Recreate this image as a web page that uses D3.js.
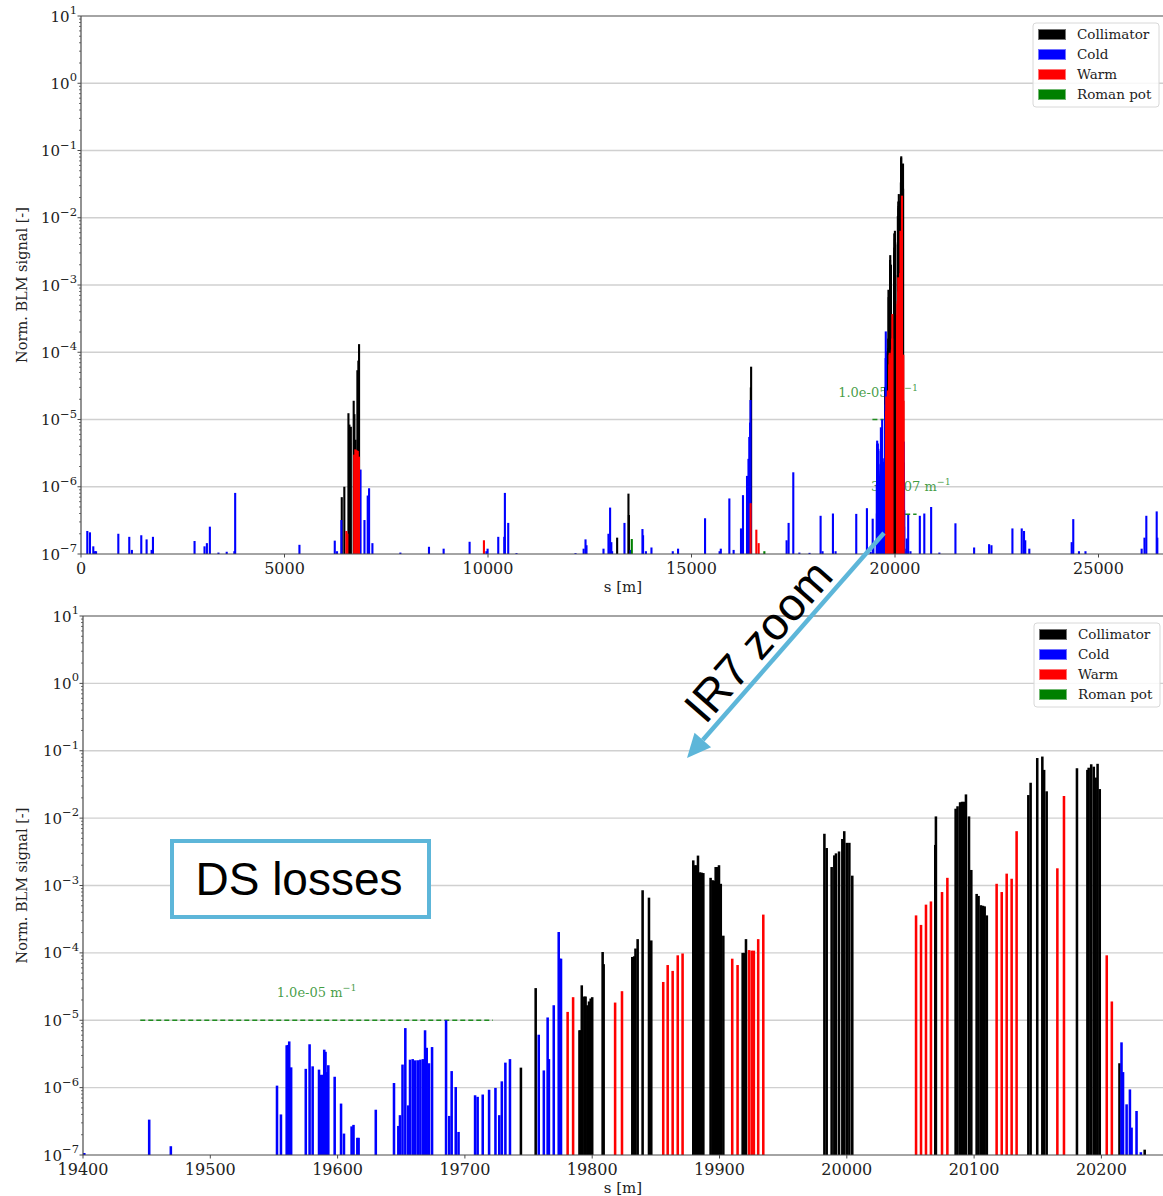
<!DOCTYPE html>
<html>
<head>
<meta charset="utf-8">
<script src="https://cdn.jsdelivr.net/npm/d3@7"></script>
<style>
  html, body { margin: 0; padding: 0; background: #fff; }
  svg { display: block; }
</style>
</head>
<body>
<svg id="chart" width="1163" height="1196"></svg>
<script>
// ---- Loss categories -------------------------------------------------------
const categories = ["Collimator", "Cold", "Warm", "Roman pot"];

// ---- Tick values ------------------------------------------------------------
const decadeExponents = [-7, -6, -5, -4, -3, -2, -1, 0, 1];
const ringTicks = [0, 5000, 10000, 15000, 20000, 25000];
const ir7Ticks = [19400, 19500, 19600, 19700, 19800, 19900, 20000, 20100, 20200];

// ---- BLM signals around the ring, outside the IR7 window: [s (m), signal] ----
const ringCold = [
  [155, 2.2e-7], [220, 2.1e-7], [302, 1.3e-7], [340, 1.1e-7], [370, 1.1e-7],
  [917, 2.0e-7], [1186, 1.8e-7], [1250, 1.15e-7], [1481, 1.9e-7], [1612, 1.65e-7],
  [1735, 1.15e-7], [1768, 1.8e-7], [2790, 1.56e-7], [3035, 1.3e-7], [3093, 1.45e-7],
  [3166, 2.55e-7], [3377, 1.05e-7], [3580, 1.08e-7], [3768, 1.1e-7], [3788, 8.1e-7],
  [5367, 1.37e-7], [6235, 1.58e-7], [6290, 1.1e-7], [6398, 3.2e-7], [6868, 1.8e-6],
  [6965, 3.2e-7], [7045, 7.4e-7], [7078, 9.5e-7], [7160, 1.45e-7], [7847, 1.05e-7],
  [8550, 1.28e-7], [8910, 1.2e-7], [9548, 1.52e-7], [9960, 1.1e-7], [9990, 1.2e-7],
  [10252, 1.8e-7], [10400, 1.8e-7], [10415, 8.1e-7], [10497, 2.9e-7], [10700, 1.03e-7],
  [12150, 1.03e-7], [12350, 1.2e-7], [12396, 1.65e-7], [12420, 1.35e-7], [12838, 1.2e-7],
  [12960, 2.0e-7], [13000, 4.9e-7], [13030, 1.5e-7], [13050, 1.1e-7], [13353, 2.9e-7],
  [13500, 1.15e-7], [13795, 2.35e-7], [13810, 1.9e-7], [13880, 1.1e-7], [14016, 1.25e-7],
  [14540, 1.1e-7], [14670, 1.2e-7], [15333, 3.4e-7], [15690, 1.1e-7], [15720, 1.2e-7],
  [15930, 6.7e-7], [16035, 1.15e-7], [16216, 2.4e-7], [16265, 7.5e-7], [16364, 1.45e-6],
  [16400, 2.6e-6], [16420, 5.5e-6], [16440, 9.0e-6], [16450, 1.95e-5], [17337, 1.6e-7],
  [17386, 2.9e-7], [17501, 1.64e-6], [17650, 1.05e-7], [17900, 1.04e-7], [18172, 3.7e-7],
  [18220, 1.1e-7], [18475, 4.0e-7], [18540, 1.1e-7], [19048, 3.95e-7], [19310, 4.8e-7],
  [20290, 1.7e-7], [20324, 3.8e-7], [20380, 1.1e-7], [20610, 3.7e-7], [20720, 4.0e-7],
  [20888, 5.0e-7], [21090, 1.05e-7], [21485, 2.86e-7], [21944, 1.25e-7], [22312, 1.4e-7],
  [22370, 1.35e-7], [22885, 2.4e-7], [23114, 2.4e-7], [23170, 2.2e-7], [23200, 1.6e-7],
  [23300, 1.2e-7], [24341, 1.5e-7], [24380, 3.3e-7], [24520, 1.1e-7], [24680, 1.1e-7],
  [26060, 1.2e-7], [26130, 1.75e-7], [26175, 3.7e-7], [26430, 4.3e-7], [26445, 1.75e-7]
];
const ringCollimator = [
  [6407, 7.0e-7], [6470, 1.0e-6], [6571, 1.24e-5], [6595, 8.4e-6], [6612, 4.5e-6],
  [6630, 7.8e-6], [6700, 1.9e-5], [6718, 1.2e-5], [6745, 5.0e-6], [6791, 5.4e-5],
  [6815, 7.5e-5], [6832, 1.32e-4], [13173, 1.75e-7], [13451, 7.9e-7], [13462, 3.8e-7],
  [16458, 3.0e-5], [16465, 6.1e-5]
];
const ringWarm = [
  [6520, 2.2e-7], [6545, 2.0e-7], [6712, 3.0e-6], [6740, 3.6e-6], [6770, 3.5e-6],
  [6800, 3.4e-6], [6830, 2.8e-6], [9900, 1.6e-7], [16452, 5.7e-7], [16593, 2.3e-7],
  [16650, 1.45e-7]
];
const ringRomanPot = [
  [13533, 1.67e-7], [16790, 1.1e-7]
];

// ---- BLM signals in the IR7 insertion: [s (m), signal] ---------------------
const ir7Cold = [
  [19401, 1.07e-7], [19452, 3.35e-7], [19469, 1.35e-7], [19552.4, 1.07e-6], [19555.5, 4.0e-7],
  [19560, 4.25e-6], [19561, 4.3e-6], [19562, 4.85e-6], [19563.5, 2.0e-6], [19575, 1.9e-6],
  [19578, 4.4e-6], [19580.4, 2.07e-6], [19585.4, 1.85e-6], [19587, 1.55e-6], [19588.5, 1.55e-6],
  [19589.5, 3.66e-6], [19590.5, 3.4e-6], [19591.5, 1.7e-6], [19592.7, 2.15e-6], [19597.7, 1.45e-6],
  [19602.7, 5.8e-7], [19605, 2.08e-7], [19611, 2.66e-7], [19612.5, 2.8e-7], [19615.5, 1.8e-7],
  [19616.5, 1.8e-7], [19630, 4.7e-7], [19644.3, 1.17e-6], [19647.7, 2.7e-7], [19649, 3.9e-7],
  [19651, 2.2e-6], [19653.2, 7.65e-6], [19655.5, 5.45e-7], [19656.9, 2.6e-6], [19659, 2.65e-6],
  [19661, 2.54e-6], [19663, 2.55e-6], [19665, 2.6e-6], [19667, 2.65e-6], [19668.7, 7.1e-6],
  [19670, 3.9e-6], [19671.8, 2.3e-6], [19674.2, 4.0e-6], [19685.2, 1.0e-5], [19687.7, 3.8e-7],
  [19689.6, 1.76e-6], [19692.8, 1.02e-6], [19695, 2.2e-7], [19708, 7.7e-7], [19710, 7.3e-7],
  [19714, 7.9e-7], [19719, 9.3e-7], [19724, 9.9e-7], [19727, 3.9e-7], [19729, 1.24e-6],
  [19731.8, 2.35e-6], [19735.4, 2.65e-6], [19758, 6.1e-6], [19762, 1.8e-6], [19765, 1.1e-5],
  [19766, 2.65e-6], [19769.8, 1.67e-5], [19773.7, 2.04e-4], [19774.7, 8.2e-5], [19775.5, 8.2e-5],
  [20215.8, 4.7e-6], [20217, 1.7e-6], [20219.8, 5.65e-7], [20222.4, 9.4e-7], [20223.7, 2.55e-7],
  [20227.6, 4.5e-7], [20231, 1.1e-7]
];
const ir7Collimator = [
  [19744, 1.98e-6], [19755.6, 3.0e-5], [19790, 7.1e-6], [19790.8, 7.1e-6], [19791.8, 3.3e-5],
  [19793.8, 2.25e-5], [19794.8, 2.25e-5], [19796.2, 1.67e-5], [19797.5, 1.9e-5], [19798.8, 2.1e-5],
  [19800, 2.2e-5], [19808.2, 1.03e-4], [19809, 6.8e-5], [19831.5, 8.7e-5], [19833, 8.9e-5],
  [19834, 1.16e-4], [19835.7, 1.6e-4], [19839.6, 8.5e-4], [19844.6, 6.6e-4], [19846.4, 1.53e-4],
  [19879.4, 2.36e-3], [19880.7, 2.0e-3], [19882, 2.0e-3], [19883.1, 2.78e-3], [19884.7, 1.57e-3],
  [19886, 1.55e-3], [19887.3, 1.53e-3], [19893, 1.3e-3], [19894.5, 1.2e-3], [19895.8, 1.18e-3],
  [19897, 1.88e-3], [19898.3, 1.88e-3], [19899.6, 2.0e-3], [19901, 1.06e-3], [19903, 1.8e-4],
  [19918.2, 1.0e-4], [19919.5, 1.0e-4], [19920.8, 1.6e-4], [19982.4, 5.86e-3], [19984.2, 3.6e-3],
  [19988.1, 1.88e-3], [19990.2, 2.8e-3], [19991.5, 3.0e-3], [19993.9, 3.2e-3], [19996.5, 4.9e-3],
  [19998, 6.4e-3], [20000, 4.3e-3], [20002, 4.3e-3], [20004.3, 1.4e-3], [20069.5, 4.0e-3],
  [20070, 1.06e-2], [20085.5, 1.38e-2], [20087, 1.5e-2], [20089, 1.72e-2], [20090.5, 1.75e-2],
  [20092, 1.75e-2], [20093.6, 2.25e-2], [20096, 1.06e-2], [20097.8, 1.7e-3], [20102, 7.5e-4],
  [20103.5, 7.0e-4], [20105.4, 5.1e-4], [20107, 5.0e-4], [20108.3, 4.9e-4], [20110, 3.6e-4],
  [20142.6, 2.2e-2], [20144.4, 3.35e-2], [20149.6, 7.8e-2], [20153.6, 8.2e-2], [20155, 5.2e-2],
  [20157, 2.5e-2], [20180.8, 5.5e-2], [20189, 5.2e-2], [20190, 5.6e-2], [20192, 6.3e-2],
  [20194, 5.8e-2], [20195.5, 4.0e-2], [20197, 6.4e-2], [20198.7, 2.7e-2], [20214.2, 2.3e-6],
  [20234, 1.2e-7]
];
const ir7Warm = [
  [19780.7, 1.33e-5], [19785, 2.2e-5], [19818, 1.83e-5], [19823.4, 2.7e-5], [19855.8, 3.7e-5],
  [19859.3, 6.6e-5], [19863.2, 5.4e-5], [19867.2, 9.2e-5], [19871, 9.8e-5], [19910, 8.2e-5],
  [19914.2, 6.6e-5], [19923.2, 1.1e-4], [19925.3, 1.08e-4], [19927, 1.08e-4], [19930.4, 1.6e-4],
  [19934.4, 3.7e-4], [20054.4, 3.6e-4], [20058.3, 2.6e-4], [20062.2, 5.2e-4], [20066.1, 5.8e-4],
  [20074.8, 8.0e-4], [20079, 1.3e-3], [20117.7, 1.06e-3], [20121.7, 8.0e-4], [20125.6, 1.5e-3],
  [20129.5, 1.26e-3], [20133.4, 6.4e-3], [20165.4, 1.8e-3], [20170.6, 2.13e-2], [20204.2, 9.2e-5],
  [20208.2, 1.9e-5]
];
const ir7RomanPot = [];

// ---- Loss-density reference lines: [s start, s end, level] ------------------
const dsLeftLimit = [19445, 19722, 1.0e-5];
const dsRightLimit = [20250, 20530, 3.9e-7];

// ---------------------------------------------------------------------------
const colors = { "Collimator": "#000000", "Cold": "#0000ff", "Warm": "#ff0000", "Roman pot": "#008000" };
const serif = "'DejaVu Serif', serif";
const sans = "'Liberation Sans', Arial, sans-serif";
const accent = "#5db6d9";
const green = "#1f8c1f";

const svg = d3.select("#chart");

function fmtLevel(v) {
  return v.toExponential(1).replace(/e([+-])(\d)$/, "e$10$2");
}

function drawPanel(cfg) {
  const g = svg.append("g");
  const x = d3.scaleLinear().domain(cfg.xDomain).range([cfg.left, cfg.right]);
  const y = d3.scaleLog().domain([1e-7, 10]).range([cfg.bottom, cfg.top]);
  const clipId = "clip" + cfg.id;
  svg.append("clipPath").attr("id", clipId)
    .append("rect").attr("x", cfg.left).attr("y", cfg.top)
    .attr("width", cfg.right - cfg.left).attr("height", cfg.bottom - cfg.top);

  // horizontal grid at every decade
  g.append("g").selectAll("line").data(decadeExponents.slice(1, -1)).join("line")
    .attr("x1", cfg.left).attr("x2", cfg.right)
    .attr("y1", e => y(Math.pow(10, e))).attr("y2", e => y(Math.pow(10, e)))
    .attr("stroke", "#d0d0d0").attr("stroke-width", 1.3);

  const plot = g.append("g").attr("clip-path", `url(#${clipId})`);

  // reference loss-density lines with their labels
  cfg.limits.forEach(([s0, s1, lvl]) => {
    plot.append("line")
      .attr("x1", x(s0)).attr("x2", x(s1)).attr("y1", y(lvl)).attr("y2", y(lvl))
      .attr("stroke", green).attr("stroke-width", 1.5).attr("stroke-dasharray", "5,3");
    const t = plot.append("text")
      .attr("x", (x(s0) + x(s1)) / 2).attr("y", y(lvl) - 23)
      .attr("text-anchor", "middle").attr("font-family", serif).attr("font-size", 13)
      .attr("fill", green).attr("fill-opacity", 0.85);
    t.append("tspan").text(fmtLevel(lvl) + " m");
    t.append("tspan").attr("dy", -6).attr("font-size", 9.5).text("\u22121");
  });

  // loss bars, one layer per category
  cfg.series.forEach(([cat, data]) => {
    plot.append("g").selectAll("rect").data(data).join("rect")
      .attr("x", d => x(d[0]) - Math.max(x(d[0] + cfg.barWidth / 2) - x(d[0]), cfg.minBar / 2))
      .attr("width", d => Math.max(x(d[0] + cfg.barWidth / 2) - x(d[0] - cfg.barWidth / 2), cfg.minBar))
      .attr("y", d => y(d[1]))
      .attr("height", d => cfg.bottom - y(d[1]))
      .attr("fill", colors[cat]);
  });

  // spines
  const spine = "#4a4a4a";
  g.append("line").attr("x1", cfg.left).attr("x2", cfg.right).attr("y1", cfg.top).attr("y2", cfg.top)
    .attr("stroke", spine).attr("stroke-width", 1.2);
  g.append("line").attr("x1", cfg.left).attr("x2", cfg.right).attr("y1", cfg.bottom).attr("y2", cfg.bottom)
    .attr("stroke", spine).attr("stroke-width", 1.2);
  g.append("line").attr("x1", cfg.left).attr("x2", cfg.left).attr("y1", cfg.top).attr("y2", cfg.bottom)
    .attr("stroke", spine).attr("stroke-width", 1.2);

  // y axis: major and minor log ticks
  const minor = [];
  decadeExponents.slice(0, -1).forEach(e => { for (let k = 2; k <= 9; k++) minor.push(k * Math.pow(10, e)); });
  g.append("g").selectAll("line").data(minor).join("line")
    .attr("x1", cfg.left - 2).attr("x2", cfg.left).attr("y1", d => y(d)).attr("y2", d => y(d))
    .attr("stroke", spine).attr("stroke-width", 0.8);
  g.append("g").selectAll("line").data(decadeExponents).join("line")
    .attr("x1", cfg.left - 3.5).attr("x2", cfg.left)
    .attr("y1", e => y(Math.pow(10, e))).attr("y2", e => y(Math.pow(10, e)))
    .attr("stroke", spine).attr("stroke-width", 1);
  const yl = g.append("g").selectAll("text").data(decadeExponents).join("text")
    .attr("x", cfg.left - 4).attr("y", e => y(Math.pow(10, e)) + 5.5)
    .attr("text-anchor", "end").attr("font-family", serif).attr("font-size", 15).attr("fill", "#222");
  yl.append("tspan").text("10");
  yl.append("tspan").attr("dy", -7.5).attr("font-size", 11.5)
    .text(e => e < 0 ? "\u2212" + Math.abs(e) : String(e));

  // x axis
  g.append("g").selectAll("line").data(cfg.xTicks).join("line")
    .attr("x1", d => x(d)).attr("x2", d => x(d)).attr("y1", cfg.bottom).attr("y2", cfg.bottom + 3.5)
    .attr("stroke", spine).attr("stroke-width", 1);
  g.append("g").selectAll("text").data(cfg.xTicks).join("text")
    .attr("x", d => x(d)).attr("y", cfg.bottom + 19.5)
    .attr("text-anchor", "middle").attr("font-family", serif).attr("font-size", 16).attr("fill", "#222")
    .text(d => String(d));

  // axis titles
  g.append("text").attr("x", 623).attr("y", cfg.bottom + 38)
    .attr("text-anchor", "middle").attr("font-family", serif).attr("font-size", 15).attr("fill", "#222")
    .text("s [m]");
  g.append("text")
    .attr("transform", `translate(27,${(cfg.top + cfg.bottom) / 2}) rotate(-90)`)
    .attr("text-anchor", "middle").attr("font-family", serif).attr("font-size", 14.5).attr("fill", "#222")
    .text("Norm. BLM signal [-]");

  // legend
  const lg = g.append("g").attr("transform", `translate(${cfg.legendX},${cfg.top + 7})`);
  lg.append("rect").attr("x", 0).attr("y", 0).attr("width", 126).attr("height", 84).attr("rx", 3)
    .attr("fill", "#fff").attr("fill-opacity", 0.85).attr("stroke", "#d8d8d8");
  categories.forEach((c, i) => {
    lg.append("rect").attr("x", 5.5).attr("y", 6.5 + i * 20).attr("width", 27).attr("height", 10)
      .attr("fill", colors[c]).attr("stroke", d3.interpolateRgb(colors[c], "#ffffff")(0.45)).attr("stroke-width", 1);
    lg.append("text").attr("x", 44).attr("y", 16 + i * 20)
      .attr("font-family", serif).attr("font-size", 13.5).attr("fill", "#222").text(c);
  });
}

// Full ring
drawPanel({
  id: "ring", xDomain: [0, 26659], left: 81, right: 81 + 26659 * 0.0407, top: 16, bottom: 554,
  xTicks: ringTicks, barWidth: 1.7, minBar: 2.1, legendX: 1033,
  limits: [dsLeftLimit, dsRightLimit],
  series: [
    ["Collimator", ringCollimator.concat(ir7Collimator)],
    ["Cold", ringCold.concat(ir7Cold)],
    ["Warm", ringWarm.concat(ir7Warm)],
    ["Roman pot", ringRomanPot.concat(ir7RomanPot)]
  ]
});

// IR7 zoom
drawPanel({
  id: "ir7", xDomain: [19400, 20250], left: 83, right: 83 + 850 * 1.273, top: 616, bottom: 1155,
  xTicks: ir7Ticks, barWidth: 2.0, minBar: 1.5, legendX: 1034,
  limits: [dsLeftLimit],
  series: [
    ["Collimator", ir7Collimator],
    ["Cold", ir7Cold],
    ["Warm", ir7Warm],
    ["Roman pot", ir7RomanPot]
  ]
});

// ---- Annotations ------------------------------------------------------------
const ann = svg.append("g");
const p0 = [884, 533], tip = [687, 758];
const len = Math.hypot(tip[0] - p0[0], tip[1] - p0[1]);
const u = [(tip[0] - p0[0]) / len, (tip[1] - p0[1]) / len];
const n = [-u[1], u[0]];
const base = [tip[0] - 24 * u[0], tip[1] - 24 * u[1]];
ann.append("line").attr("x1", p0[0]).attr("y1", p0[1]).attr("x2", base[0]).attr("y2", base[1])
  .attr("stroke", accent).attr("stroke-width", 4.5);
ann.append("path")
  .attr("d", `M${tip[0]},${tip[1]} L${base[0] + 11 * n[0]},${base[1] + 11 * n[1]} L${base[0] - 11 * n[0]},${base[1] - 11 * n[1]} Z`)
  .attr("fill", accent);
const ang = Math.atan2(p0[1] - tip[1], p0[0] - tip[0]) * 180 / Math.PI;
ann.append("text")
  .attr("transform", `translate(758,641) rotate(${ang})`)
  .attr("text-anchor", "middle").attr("dominant-baseline", "central")
  .attr("font-family", sans).attr("font-size", 46).attr("fill", "#000")
  .text("IR7 zoom");

ann.append("rect").attr("x", 172).attr("y", 841).attr("width", 257).attr("height", 76)
  .attr("fill", "#fff").attr("stroke", accent).attr("stroke-width", 4);
ann.append("text").attr("x", 299).attr("y", 895)
  .attr("text-anchor", "middle").attr("font-family", sans).attr("font-size", 46).attr("fill", "#000")
  .text("DS losses");
</script>
</body>
</html>
